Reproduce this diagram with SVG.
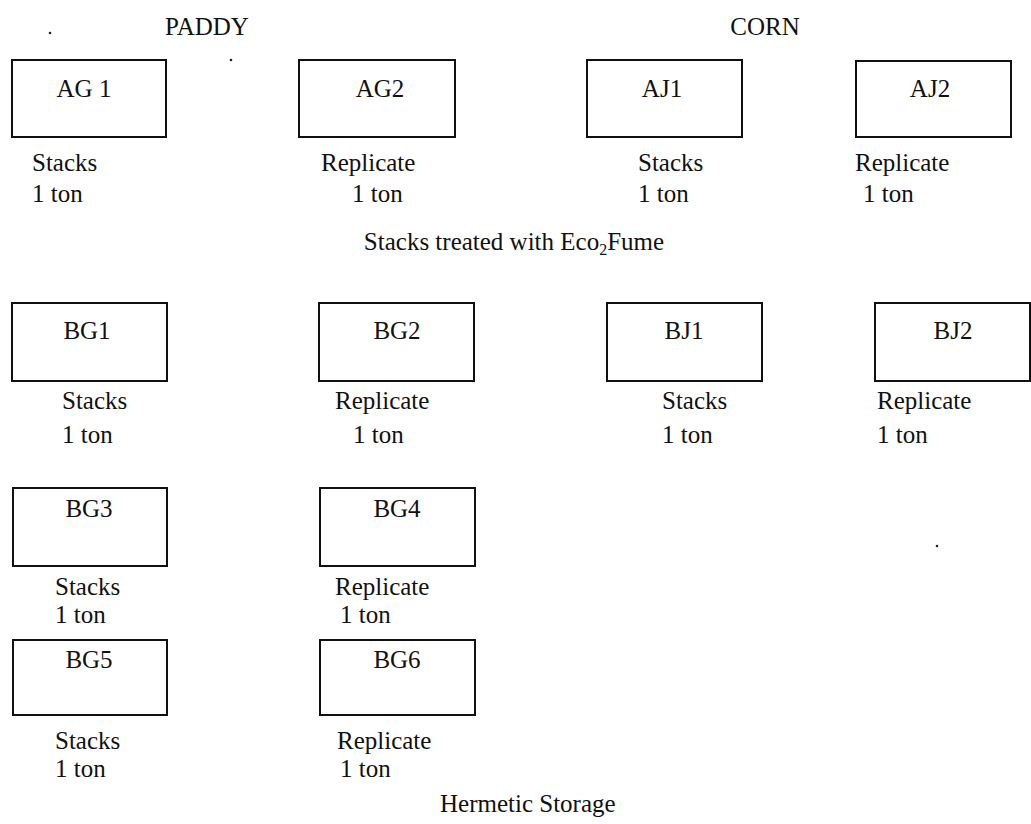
<svg xmlns="http://www.w3.org/2000/svg" width="1031" height="824" viewBox="0 0 1031 824">
<style>
  .box { fill: #ffffff; stroke: #111111; stroke-width: 2; }
  text { font-family: "Liberation Serif", "Times New Roman", serif; font-size: 25px; fill: #111111; }
  .c { text-anchor: middle; }
  .speck { fill: #222222; }
</style>
<rect width="1031" height="824" fill="#ffffff"/>
<g id="headings">
  <text class="c" x="207" y="35">PADDY</text>
  <text class="c" x="765" y="35">CORN</text>
  <text class="c" x="514" y="250">Stacks treated with Eco<tspan font-size="16" dy="5">2</tspan><tspan dy="-5">Fume</tspan></text>
  <text x="440" y="812">Hermetic Storage</text>
</g>
<g id="connectors"></g>
<g id="AG1">
  <rect class="box" x="12" y="60" width="154" height="77"/>
  <text class="c" x="84" y="97">AG 1</text>
  <text x="32" y="171">Stacks</text>
  <text x="32" y="202">1 ton</text>
</g>
<g id="AG2">
  <rect class="box" x="299" y="60" width="156" height="77"/>
  <text class="c" x="380" y="97">AG2</text>
  <text x="321" y="171">Replicate</text>
  <text x="352" y="202">1 ton</text>
</g>
<g id="AJ1">
  <rect class="box" x="587" y="60" width="155" height="77"/>
  <text class="c" x="662" y="97">AJ1</text>
  <text x="638" y="171">Stacks</text>
  <text x="638" y="202">1 ton</text>
</g>
<g id="AJ2">
  <rect class="box" x="856" y="61" width="155" height="76"/>
  <text class="c" x="930" y="97">AJ2</text>
  <text x="855" y="171">Replicate</text>
  <text x="863" y="202">1 ton</text>
</g>
<g id="BG1">
  <rect class="box" x="12" y="303" width="155" height="78"/>
  <text class="c" x="87" y="339">BG1</text>
  <text x="62" y="409">Stacks</text>
  <text x="62" y="443">1 ton</text>
</g>
<g id="BG2">
  <rect class="box" x="319" y="303" width="155" height="78"/>
  <text class="c" x="397" y="339">BG2</text>
  <text x="335" y="409">Replicate</text>
  <text x="353" y="443">1 ton</text>
</g>
<g id="BJ1">
  <rect class="box" x="607" y="303" width="155" height="78"/>
  <text class="c" x="684" y="339">BJ1</text>
  <text x="662" y="409">Stacks</text>
  <text x="662" y="443">1 ton</text>
</g>
<g id="BJ2">
  <rect class="box" x="875" y="303" width="155" height="78"/>
  <text class="c" x="953" y="339">BJ2</text>
  <text x="877" y="409">Replicate</text>
  <text x="877" y="443">1 ton</text>
</g>
<g id="BG3">
  <rect class="box" x="13" y="488" width="154" height="78"/>
  <text class="c" x="89" y="517">BG3</text>
  <text x="55" y="595">Stacks</text>
  <text x="55" y="623">1 ton</text>
</g>
<g id="BG4">
  <rect class="box" x="320" y="488" width="155" height="78"/>
  <text class="c" x="397" y="517">BG4</text>
  <text x="335" y="595">Replicate</text>
  <text x="340" y="623">1 ton</text>
</g>
<g id="BG5">
  <rect class="box" x="13" y="640" width="154" height="75"/>
  <text class="c" x="89" y="668">BG5</text>
  <text x="55" y="749">Stacks</text>
  <text x="55" y="777">1 ton</text>
</g>
<g id="BG6">
  <rect class="box" x="320" y="640" width="155" height="75"/>
  <text class="c" x="397" y="668">BG6</text>
  <text x="337" y="749">Replicate</text>
  <text x="340" y="777">1 ton</text>
</g>
<g id="specks">
  <circle class="speck" cx="50" cy="33" r="1.3"/>
  <circle class="speck" cx="231" cy="60" r="1.3"/>
  <circle class="speck" cx="937" cy="546" r="1.3"/>
</g>
</svg>
